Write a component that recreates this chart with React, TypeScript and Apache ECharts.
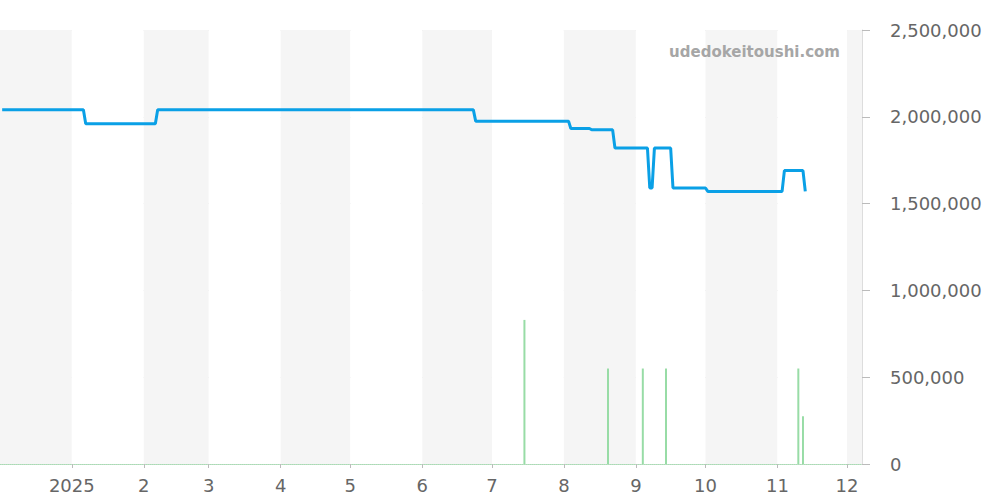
import React, { useEffect, useRef } from "react";
import * as echarts from "echarts";

// Price line (key daily points where the price changes)
const priceDates = [
  "2024-12-02", "2025-01-06", "2025-01-07", "2025-02-06", "2025-02-07",
  "2025-06-23", "2025-06-24", "2025-08-03", "2025-08-04", "2025-08-12",
  "2025-08-13", "2025-08-22", "2025-08-23", "2025-09-06", "2025-09-07",
  "2025-09-08", "2025-09-09", "2025-09-16", "2025-09-17", "2025-10-01",
  "2025-10-02", "2025-11-03", "2025-11-04", "2025-11-12", "2025-11-13",
];
const priceValues = [
  2040000, 2040000, 1960000, 1960000, 2040000,
  2040000, 1975000, 1975000, 1933000, 1933000,
  1925000, 1925000, 1820000, 1820000, 1590000,
  1590000, 1820000, 1820000, 1590000, 1590000,
  1570000, 1570000, 1690000, 1690000, 1570000,
];

// Volume bars
const volumeDates = [
  "2025-07-15", "2025-08-20", "2025-09-04", "2025-09-14", "2025-11-10", "2025-11-12",
];
const volumeValues = [830000, 550000, 550000, 550000, 550000, 275000];

// Axis
const xMin = "2024-12-01 12:00:00";
const xMax = "2025-12-07 00:00:00";
const yMax = 2500000;
const yInterval = 500000;
const watermark = "udedokeitoushi.com";

export default function App() {
  const ref = useRef<HTMLDivElement>(null);

  useEffect(() => {
    if (!ref.current) return;
    const chart = echarts.init(ref.current, undefined, { renderer: "svg" });
    const font = "DejaVu Sans, sans-serif";
    chart.setOption({
      animation: false,
      backgroundColor: "#ffffff",
      grid: { left: 0, right: 138, top: 30, bottom: 36, containLabel: false },
      graphic: [
        {
          type: "text",
          right: 160,
          top: 44,
          z: 100,
          style: {
            text: watermark,
            fill: "#a6a6a6",
            font: `bold 15px ${font}`,
          },
        },
      ],
      xAxis: {
        type: "time",
        min: xMin,
        max: xMax,
        splitNumber: 12,
        axisLine: {
          show: true,
          lineStyle: { color: "#a8dcb3", width: 1, type: [1, 1] },
        },
        axisTick: { show: true, length: 4, lineStyle: { color: "#bbbbbb" } },
        axisLabel: {
          color: "#666666",
          fontSize: 18,
          fontFamily: font,
          margin: 12,
          showMinLabel: false,
          showMaxLabel: false,
          formatter: (v: number) => {
            const d = new Date(v);
            return d.getMonth() === 0 ? String(d.getFullYear()) : String(d.getMonth() + 1);
          },
        },
        splitLine: { show: false },
        splitArea: { show: true, areaStyle: { color: ["#f5f5f5", "#ffffff"] } },
      },
      yAxis: {
        type: "value",
        position: "right",
        min: 0,
        max: yMax,
        interval: yInterval,
        axisLine: { show: true, lineStyle: { color: "#dddddd" } },
        axisTick: { show: true, length: 8, lineStyle: { color: "#bbbbbb" } },
        axisLabel: {
          color: "#666666",
          fontSize: 18,
          fontFamily: font,
          margin: 28,
          formatter: (v: number) => v.toLocaleString("en-US"),
        },
        splitLine: { show: true, lineStyle: { color: "#e0e0e0" } },
      },
      series: [
        {
          type: "bar",
          data: volumeDates.map((d, i) => [d, volumeValues[i]]),
          barWidth: 2,
          itemStyle: { color: "#98dca6" },
          z: 2,
        },
        {
          type: "line",
          data: priceDates.map((d, i) => [d, priceValues[i]]),
          showSymbol: false,
          symbol: "none",
          lineStyle: { color: "#0aa0e6", width: 3 },
          z: 3,
        },
      ],
    });
    return () => chart.dispose();
  }, []);

  return (
    <div
      ref={ref}
      style={{ position: "absolute", left: 0, top: 0, width: 1000, height: 500 }}
    />
  );
}
